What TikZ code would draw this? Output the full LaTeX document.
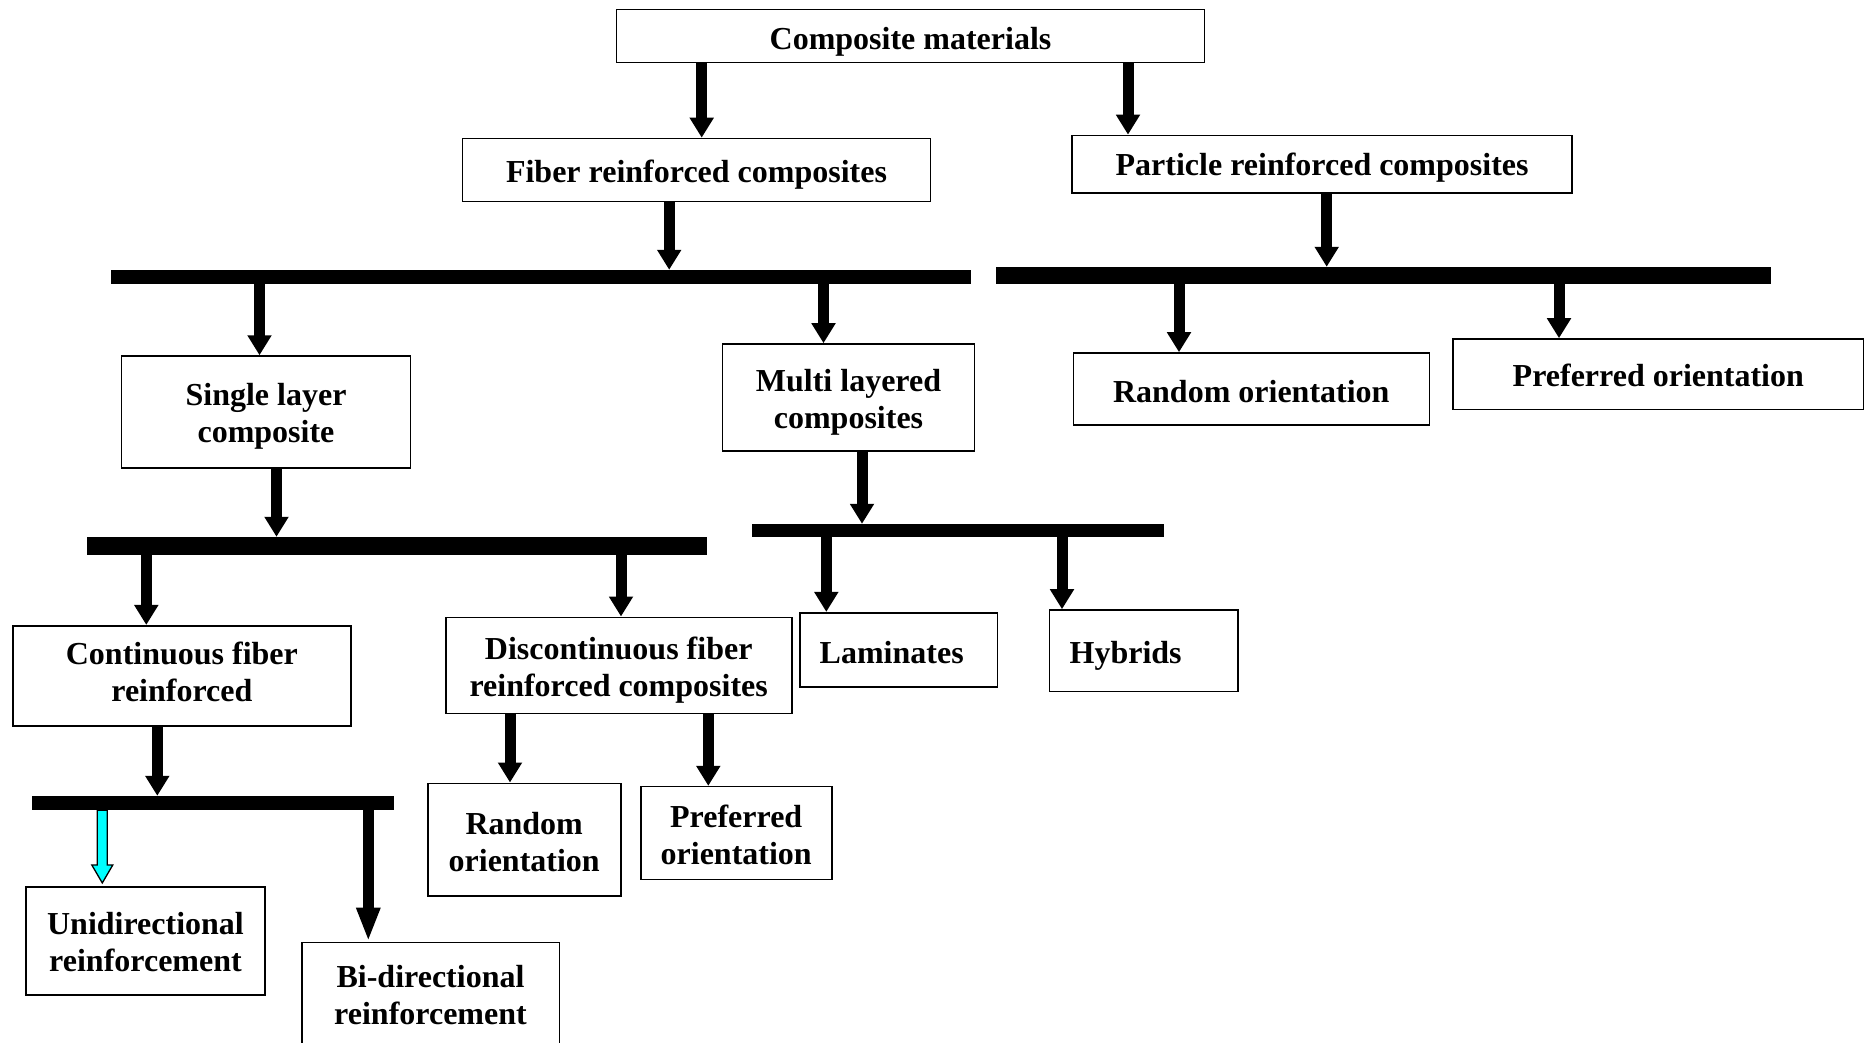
\documentclass[tikz,border=0pt]{standalone}
\usepackage{fontspec}
\setmainfont{Liberation Serif}
\usetikzlibrary{arrows.meta,calc}
\definecolor{aqua}{RGB}{0,255,255}
\newcommand\boxtext[2][-5pt]{\raisebox{#1}[\height][\depth]{\begin{tabular}{@{}c@{}}#2\end{tabular}}}
\tikzset{
  box/.style={draw=black, line width=1.6pt, fill=white, inner sep=0pt, align=center,
    font=\bfseries\fontsize{32pt}{37pt}\selectfont},
  leftbox/.style={box, align=left, inner xsep=20pt},
  bar/.style={fill=black, draw=none, inner sep=0pt},
  arr/.style={line width=11pt, -{Triangle[width=23pt,length=20pt]}},
  bigarr/.style={line width=11.3pt, -{Triangle[width=22pt,length=34pt]}},
  cyanarr/.style={fill=aqua, draw=black, line width=1.3pt, line join=miter},
}
\begin{document}
\begin{tikzpicture}[x=1pt,y=-1pt]
\useasboundingbox[fill=white] (0,0) rectangle (1866,1043);
\begin{scope}
\clip (0,0) rectangle (1866,1043);
% boxes
\node[box, minimum width=588pt, minimum height=53pt] (comp) at (910.5,36) {\boxtext[-6pt]{Composite materials}};
\node[box, minimum width=468pt, minimum height=63pt] (fiber) at (696.5,170) {\boxtext{Fiber reinforced composites}};
\node[box, minimum width=500pt, minimum height=57.5pt] (particle) at (1322.1,164.2) {\boxtext[-3.6pt]{Particle reinforced composites}};
\node[box, minimum width=289pt, minimum height=111.7pt] (single) at (266,411.9) {\boxtext{Single layer\\composite}};
\node[box, minimum width=252pt, minimum height=107pt] (multi) at (848.5,397.5) {\boxtext{Multi layered\\composites}};
\node[box, minimum width=356pt, minimum height=72pt] (randR) at (1251.3,389) {\boxtext[-5.9pt]{Random orientation}};
\node[box, minimum width=410.6pt, minimum height=70.4pt] (prefR) at (1658.3,374.2) {\boxtext[-4.7pt]{Preferred orientation}};
\node[box, minimum width=338.3pt, minimum height=100.3pt] (cont) at (181.9,675.9) {\boxtext[0pt]{Continuous fiber\\reinforced}};
\node[box, minimum width=346pt, minimum height=96pt] (disc) at (618.7,665.3) {\boxtext{Discontinuous fiber\\reinforced composites}};
\node[leftbox, text width=157.6pt, minimum height=74pt] (lam) at (898.5,649.7) {\boxtext[-5.9pt]{Laminates}};
\node[leftbox, text width=148.1pt, minimum height=81.4pt] (hyb) at (1143.7,650.7) {\boxtext{Hybrids}};
\node[box, minimum width=193pt, minimum height=112.8pt] (randM) at (524.2,839.7) {\boxtext[-5.8pt]{Random\\orientation}};
\node[box, minimum width=191pt, minimum height=92.7pt] (prefM) at (736.2,833) {\boxtext[-5.8pt]{Preferred\\orientation}};
\node[box, minimum width=239pt, minimum height=108.3pt] (uni) at (145.5,940.9) {\boxtext[-4.5pt]{Unidirectional\\reinforcement}};
\node[box, minimum width=257.6pt, minimum height=104.7pt] (bi) at (430.5,994.7) {\boxtext[-3.5pt]{Bi-directional\\reinforcement}};
% bars
\node[bar, minimum width=860.4pt, minimum height=14pt] (barA) at (540.9,277) {};
\node[bar, minimum width=774.8pt, minimum height=17pt] (barB) at (1383.4,275.5) {};
\node[bar, minimum width=620pt, minimum height=18pt] (barC) at (397,546) {};
\node[bar, minimum width=412.6pt, minimum height=13pt] (barD) at (958,530.5) {};
\node[bar, minimum width=361.4pt, minimum height=14pt] (barE) at (213,803) {};
% arrow x positions
\coordinate (ax1) at (701.7,0);
\coordinate (ax2) at (1128,0);
\coordinate (ax3) at (669.2,0);
\coordinate (ax4) at (1326.7,0);
\coordinate (ax5) at (259.5,0);
\coordinate (ax6) at (823.5,0);
\coordinate (ax7) at (1179,0);
\coordinate (ax8) at (1559,0);
\coordinate (ax9) at (276.5,0);
\coordinate (ax10) at (862,0);
\coordinate (ax11) at (146.3,0);
\coordinate (ax12) at (621,0);
\coordinate (ax13) at (826.3,0);
\coordinate (ax14) at (1062,0);
\coordinate (ax15) at (157.3,0);
\coordinate (ax16) at (510,0);
\coordinate (ax17) at (708.3,0);
\coordinate (ax18) at (102.3,0);
\coordinate (ax19) at (368.3,0);
% arrows
\draw[arr] (comp.south -| ax1) -- (fiber.north -| ax1);
\draw[arr] (comp.south -| ax2) -- (particle.north -| ax2);
\draw[arr] (fiber.south -| ax3) -- (barA.north -| ax3);
\draw[arr] (particle.south -| ax4) -- (barB.north -| ax4);
\draw[arr] (barA.south -| ax5) -- (single.north -| ax5);
\draw[arr] (barA.south -| ax6) -- (multi.north -| ax6);
\draw[arr] (barB.south -| ax7) -- (randR.north -| ax7);
\draw[arr] (barB.south -| ax8) -- (prefR.north -| ax8);
\draw[arr] (single.south -| ax9) -- (barC.north -| ax9);
\draw[arr] (multi.south -| ax10) -- (barD.north -| ax10);
\draw[arr] (barC.south -| ax11) -- (cont.north -| ax11);
\draw[arr] (barC.south -| ax12) -- (disc.north -| ax12);
\draw[arr] (barD.south -| ax13) -- (lam.north -| ax13);
\draw[arr] (barD.south -| ax14) -- (hyb.north -| ax14);
\draw[arr] (cont.south -| ax15) -- (barE.north -| ax15);
\draw[arr] (disc.south -| ax16) -- (randM.north -| ax16);
\draw[arr] (disc.south -| ax17) -- (prefM.north -| ax17);
\draw[bigarr] (barE.south -| ax19) -- (bi.north -| ax19);
% cyan arrow
\coordinate (c0) at (barE.south -| ax18);
\coordinate (c1) at (uni.north -| ax18);
\draw[cyanarr] ($(c0)+(-5,0)$) -- ($(c1)+(-5,-21)$) -- ($(c1)+(-10.5,-21)$) -- ($(c1)+(0,-3)$)
  -- ($(c1)+(10.5,-21)$) -- ($(c1)+(5,-21)$) -- ($(c0)+(5,0)$) -- cycle;
\end{scope}
\end{tikzpicture}
\end{document}
